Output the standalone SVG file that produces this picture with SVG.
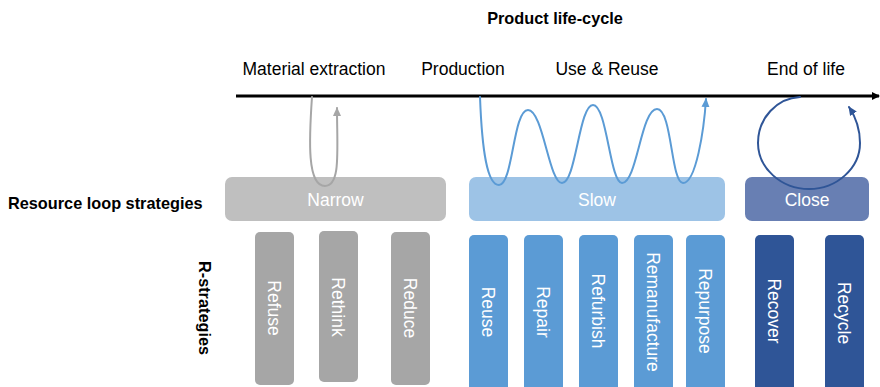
<svg xmlns="http://www.w3.org/2000/svg" width="880" height="387" viewBox="0 0 880 387">
  <style>
    .t { font-family: "Liberation Sans", Arial, sans-serif; }
    .title { font-size: 16.3px; font-weight: bold; fill: #000; }
    .stage { font-size: 17.5px; fill: #000; }
    .bar-label { font-size: 17.5px; fill: #fff; }
    .r-label { font-size: 17.5px; fill: #fff; }
    .narrow { fill: #BFBFBF; }
    .slow { fill: #9DC3E6; }
    .close { fill: #687FB3; }
    .r-grey { fill: #A6A6A6; }
    .r-blue { fill: #5B9BD5; }
    .r-dark { fill: #2F5597; }
    .loop { fill: none; stroke-width: 2; stroke-linecap: round; }
  </style>
  <defs>
    <marker id="axis-head" markerWidth="8" markerHeight="8" refX="7" refY="4" orient="auto" markerUnits="userSpaceOnUse">
      <path d="M0,0 L8,4 L0,8 Z" fill="#000"/>
    </marker>
    <marker id="head-grey" markerWidth="10" markerHeight="10" refX="8" refY="5" orient="auto" markerUnits="userSpaceOnUse">
      <path d="M0,1 L9,5 L0,9 Z" fill="#A6A6A6"/>
    </marker>
    <marker id="head-blue" markerWidth="10" markerHeight="10" refX="8" refY="5" orient="auto" markerUnits="userSpaceOnUse">
      <path d="M0,1 L9,5 L0,9 Z" fill="#5B9BD5"/>
    </marker>
    <marker id="head-dark" markerWidth="10" markerHeight="10" refX="8" refY="5" orient="auto" markerUnits="userSpaceOnUse">
      <path d="M0,1 L9,5 L0,9 Z" fill="#2F5597"/>
    </marker>
  </defs>

  <rect width="880" height="387" fill="#fff"/>

  <!-- headings -->
  <g id="headings" class="t">
    <text class="title" x="555" y="24" text-anchor="middle">Product life-cycle</text>
    <text class="title" x="8" y="209">Resource loop strategies</text>
    <text class="title" transform="translate(205,308) rotate(90)" text-anchor="middle" dy="0.35em">R-strategies</text>
  </g>

  <!-- life-cycle stages -->
  <g id="stages" class="t stage">
    <text x="314" y="75" text-anchor="middle">Material extraction</text>
    <text x="463" y="75" text-anchor="middle">Production</text>
    <text x="607" y="75" text-anchor="middle">Use &amp; Reuse</text>
    <text x="806" y="75" text-anchor="middle">End of life</text>
  </g>

  <!-- resource loop strategies -->
  <g id="narrow" class="t">
    <rect class="narrow" x="225" y="177" width="221" height="44" rx="7"/>
    <text class="bar-label" x="335.5" y="206" text-anchor="middle">Narrow</text>
  </g>
  <g id="slow" class="t">
    <rect class="slow" x="469" y="177" width="256" height="44" rx="7"/>
    <text class="bar-label" x="597" y="206" text-anchor="middle">Slow</text>
  </g>
  <g id="close" class="t">
    <rect class="close" x="745" y="177" width="124" height="44" rx="7"/>
    <text class="bar-label" x="807" y="206" text-anchor="middle">Close</text>
  </g>

  <!-- R-strategies -->
  <g id="refuse" class="t">
    <rect class="r-grey" x="255" y="232" width="39" height="153" rx="5"/>
    <text class="r-label" transform="translate(274.5,308) rotate(90)" text-anchor="middle" dy="0.35em">Refuse</text>
  </g>
  <g id="rethink" class="t">
    <rect class="r-grey" x="319" y="231" width="39" height="151" rx="5"/>
    <text class="r-label" transform="translate(338.5,307) rotate(90)" text-anchor="middle" dy="0.35em">Rethink</text>
  </g>
  <g id="reduce" class="t">
    <rect class="r-grey" x="391" y="232" width="39" height="153" rx="5"/>
    <text class="r-label" transform="translate(410.5,308) rotate(90)" text-anchor="middle" dy="0.35em">Reduce</text>
  </g>
  <g id="reuse" class="t">
    <rect class="r-blue" x="469" y="235" width="39" height="160" rx="5"/>
    <text class="r-label" transform="translate(488.5,312) rotate(90)" text-anchor="middle" dy="0.35em">Reuse</text>
  </g>
  <g id="repair" class="t">
    <rect class="r-blue" x="524" y="235" width="39" height="160" rx="5"/>
    <text class="r-label" transform="translate(543.5,312) rotate(90)" text-anchor="middle" dy="0.35em">Repair</text>
  </g>
  <g id="refurbish" class="t">
    <rect class="r-blue" x="579" y="235" width="39" height="160" rx="5"/>
    <text class="r-label" transform="translate(598.5,311) rotate(90)" text-anchor="middle" dy="0.35em">Refurbish</text>
  </g>
  <g id="remanufacture" class="t">
    <rect class="r-blue" x="634" y="235" width="39" height="160" rx="5"/>
    <text class="r-label" transform="translate(653.5,312) rotate(90)" text-anchor="middle" dy="0.35em">Remanufacture</text>
  </g>
  <g id="repurpose" class="t">
    <rect class="r-blue" x="686" y="235" width="39" height="160" rx="5"/>
    <text class="r-label" transform="translate(705.5,311) rotate(90)" text-anchor="middle" dy="0.35em">Repurpose</text>
  </g>
  <g id="recover" class="t">
    <rect class="r-dark" x="755" y="235" width="39" height="160" rx="5"/>
    <text class="r-label" transform="translate(774.5,311) rotate(90)" text-anchor="middle" dy="0.35em">Recover</text>
  </g>
  <g id="recycle" class="t">
    <rect class="r-dark" x="825" y="235" width="39" height="160" rx="5"/>
    <text class="r-label" transform="translate(844.5,313) rotate(90)" text-anchor="middle" dy="0.35em">Recycle</text>
  </g>

  <!-- time axis and resource loops, drawn over the strategy bars -->
  <g id="connectors">
    <line x1="236" y1="96" x2="879" y2="96" stroke="#000" stroke-width="3" marker-end="url(#axis-head)"/>
    <path class="loop" stroke="#A6A6A6" marker-end="url(#head-grey)"
          d="M312,97 C309,140 307,186 325,186 C341,186 337,150 337,108"/>
    <path class="loop" stroke="#5B9BD5" marker-end="url(#head-blue)"
          d="M480,97 C482,150 487,185 499,185
             C513,185 513,110 528,110
             C543,110 549,183 562,183
             C576,183 579,105 593,105
             C607,105 610,183 622,183
             C637,183 641,109 657,109
             C672,109 671,183 683,183
             C696,183 704,130 706,99"/>
    <path class="loop" stroke="#2F5597" marker-end="url(#head-dark)"
          d="M800,97 C777,98 758,118 758,143 C758,168 781,189 809,189
             C837,189 860,168 860,143 C860,128 855,116 849,107"/>
  </g>
</svg>
